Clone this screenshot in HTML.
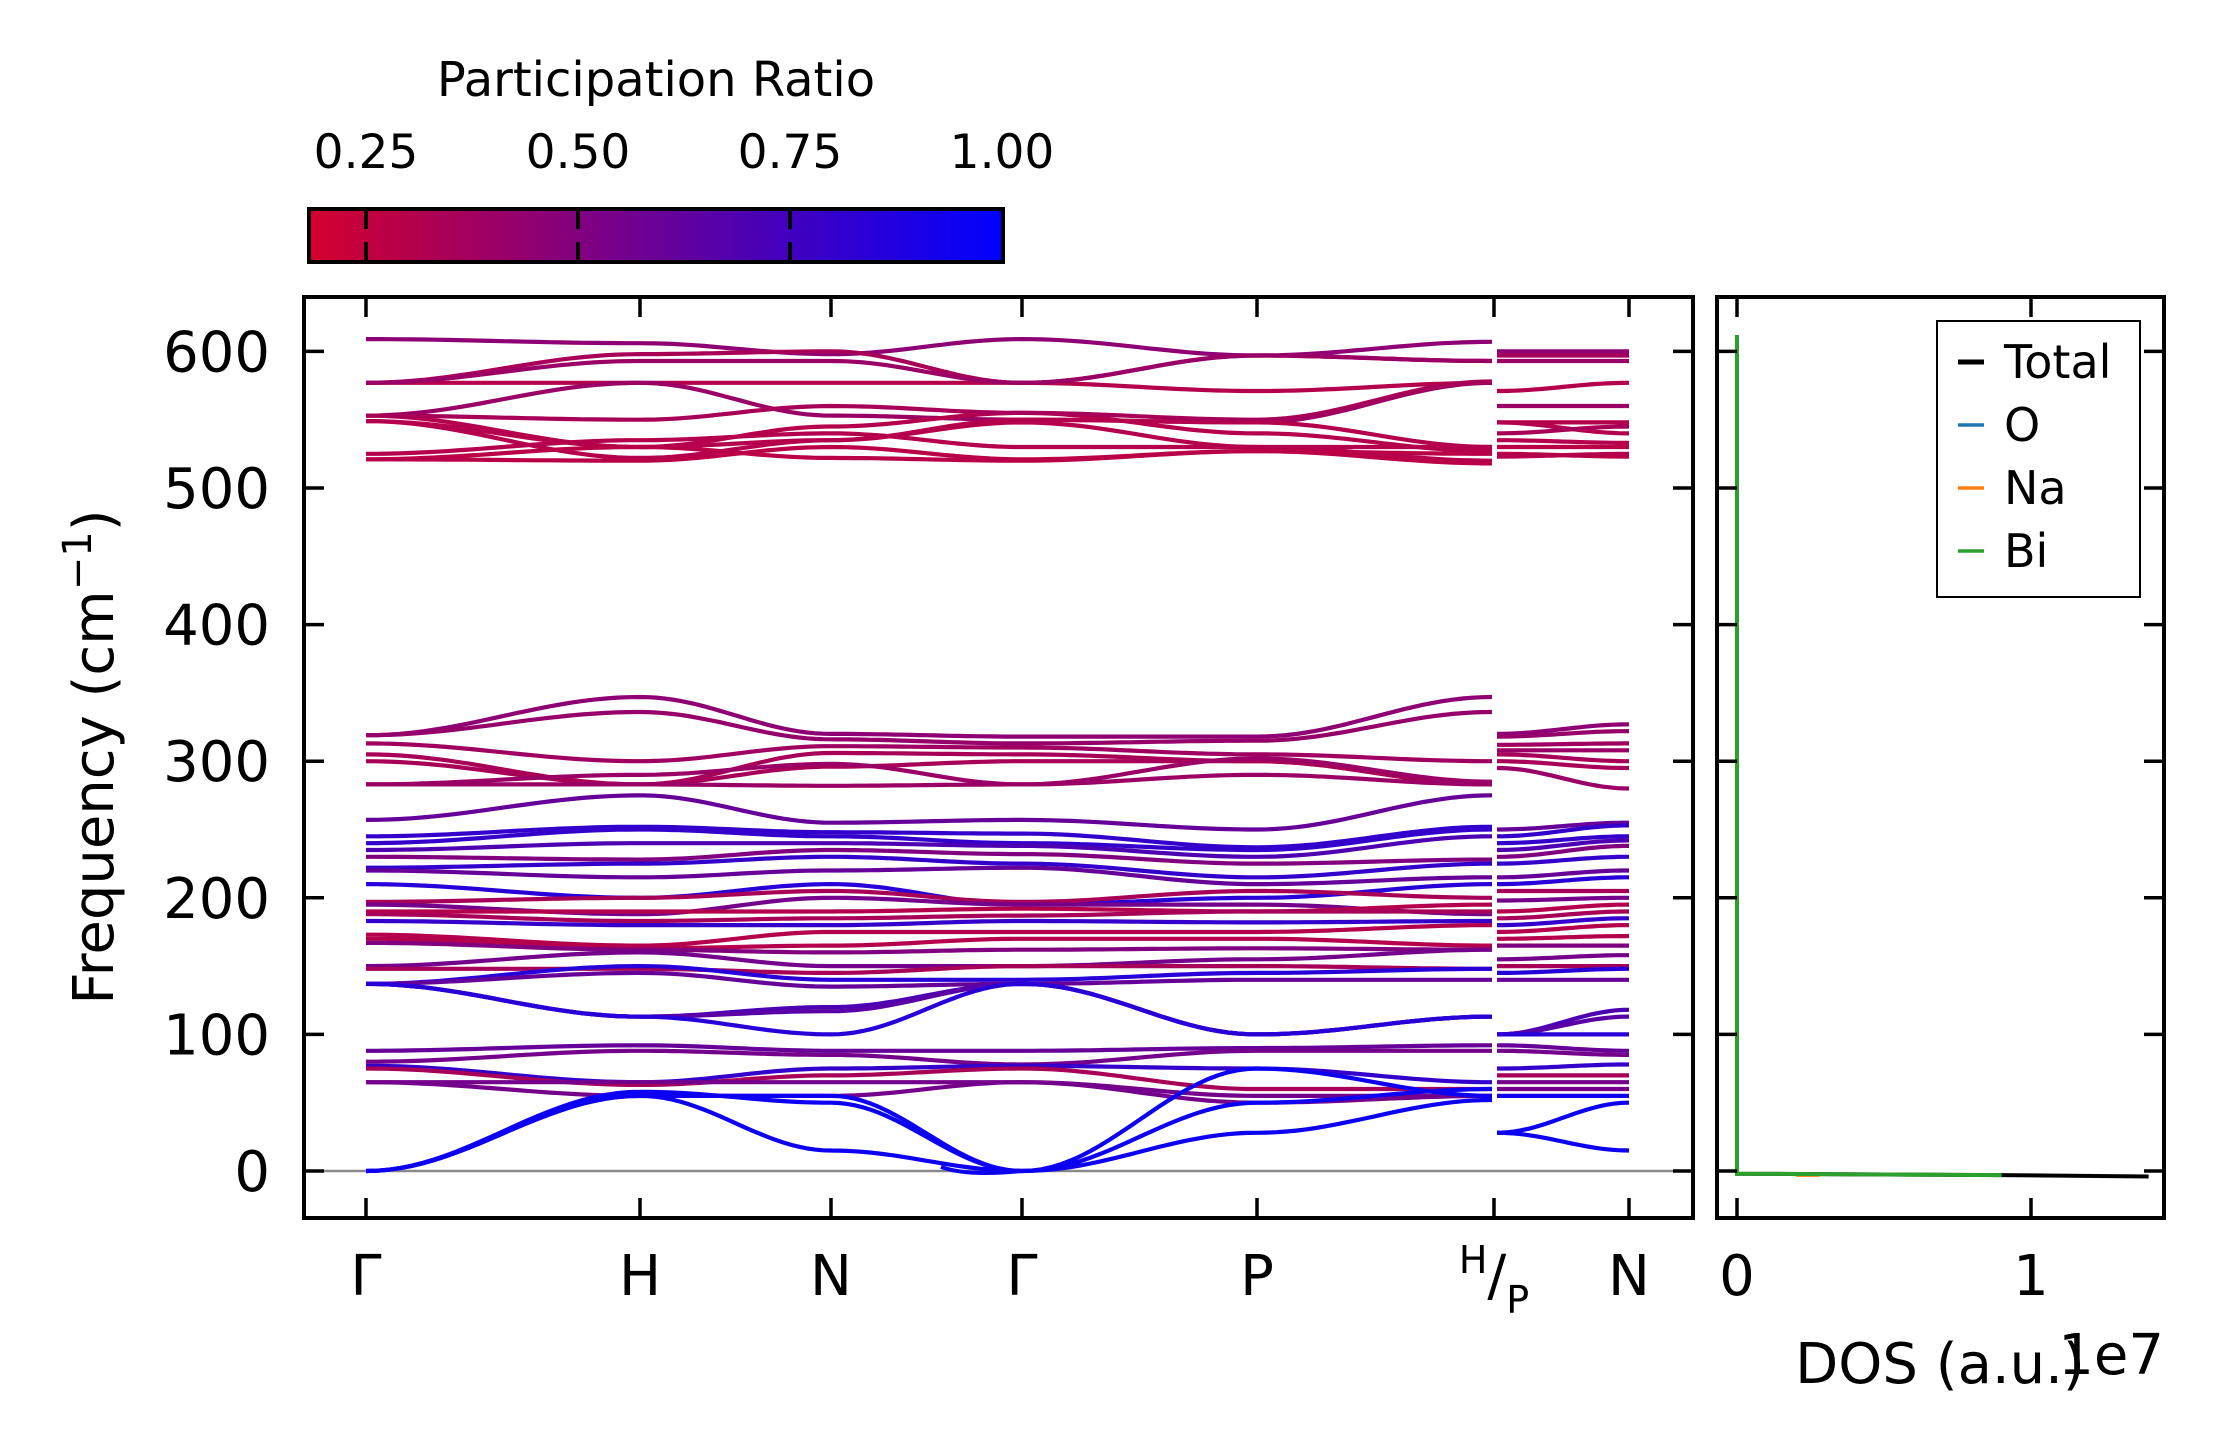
<!DOCTYPE html>
<html><head><meta charset="utf-8"><style>
html,body{margin:0;padding:0;background:#fff;}
svg{display:block;font-family:"DejaVu Sans","Liberation Sans",sans-serif;}
</style></head><body>
<svg id="fig" width="2222" height="1455" viewBox="0 0 2222 1455" xmlns="http://www.w3.org/2000/svg">
<defs>
<linearGradient id="cbgrad" x1="0" x2="1" y1="0" y2="0">
<stop offset="0" stop-color="rgb(212,0,46)"/><stop offset="1" stop-color="rgb(0,0,255)"/>
</linearGradient>
<clipPath id="mainclip"><rect x="303" y="295" width="1391" height="924"/></clipPath>
<clipPath id="dosclip"><rect x="1716" y="295" width="449" height="924"/></clipPath>
</defs>
<g id="colorbar"></g>
<g id="bands"></g>
<g id="dos"></g>
</svg>
<script>
const kLabels = ["Γ","H","N","Γ","P","H/P","N"];
const prTicks = [0.25, 0.50, 0.75, 1.00];
const prTickLabels = ["0.25","0.50","0.75","1.00"];
const yTicks = [0,100,200,300,400,500,600];
const dosTicks = [0,1];
const legendLabels = ["Total","O","Na","Bi"];
const legendColors = ["#000000","#1f77b4","#ff7f0e","#2ca02c"];
const bandFreqs = [
[609,606,598,609,597,607,600,600],
[577,598,600,577,597,593,597,597],
[577,577,577,577,571,577,571,577],
[577,593,593,577,597,593,593,593],
[553,577,553,550,548,577,560,560],
[553,530,545,555,540,527,548,548],
[549,530,535,548,530,520,548,540],
[549,522,535,550,548,530,535,533],
[521,520,530,521,527,518,530,530],
[521,530,522,520,527,525,525,523],
[553,550,560,555,550,578,540,545],
[525,535,540,530,530,530,523,525],
[319,347,320,318,318,347,320,327],
[319,336,316,313,315,336,318,322],
[313,300,311,310,305,300,312,313],
[305,283,306,305,300,283,305,300],
[300,283,296,300,300,283,300,295],
[283,283,282,283,290,283,295,280],
[283,290,298,283,302,285,308,308],
[257,275,255,257,250,275,250,255],
[245,252,248,247,237,252,245,253],
[240,250,245,240,235,250,240,245],
[235,240,240,238,230,245,235,242],
[230,228,235,232,225,228,230,238],
[222,225,230,225,215,225,225,230],
[220,215,220,222,210,215,215,220],
[210,200,210,195,200,210,210,215],
[197,200,205,197,205,200,205,205],
[195,188,200,195,195,188,198,200],
[190,190,190,192,190,195,190,195],
[188,183,185,187,190,190,185,190],
[183,180,180,183,182,183,180,185],
[173,165,175,175,175,180,175,180],
[170,163,165,170,170,165,170,172],
[167,162,160,162,163,162,165,165],
[150,160,150,150,155,162,155,158],
[148,148,145,150,150,148,150,150],
[137,150,140,140,145,148,145,148],
[137,145,135,137,140,140,140,140],
[137,113,120,137,100,113,100,118],
[137,113,117,137,100,113,100,113],
[137,113,100,137,100,113,100,100],
[88,92,88,88,90,92,92,88],
[80,88,85,78,88,88,88,85],
[77,65,75,77,75,65,75,78],
[75,63,70,75,60,60,70,70],
[65,65,65,65,55,55,65,65],
[65,55,55,65,50,55,60,60],
[0,55,55,0,75,55,55,55],
[0,55,15,0,28,52,28,15],
[0,58,50,0,50,60,28,50]
];
const bandPR = [0.45,0.35,0.3,0.4,0.4,0.3,0.3,0.3,0.28,0.28,0.35,0.3,
0.45,0.42,0.38,0.35,0.35,0.4,0.4,
0.6,0.8,0.8,0.7,0.5,0.8,0.6,0.85,0.35,0.55,0.3,0.35,0.8,0.3,0.3,0.5,0.55,0.35,0.85,0.6,0.7,0.65,0.85,
0.6,0.55,0.8,0.35,0.55,0.55,0.95,0.95,0.95];
const dosTotalX = [0,0,0.9,1.4];
const dosTotalY = [612,-2,-3,-4];
const dosBiX = [0,0,0.9];
const dosBiY = [612,-2,-3];
const dosNaX = [0.2,0.28];
const dosNaY = [-3,-3];

const NS="http://www.w3.org/2000/svg";
function mk(tag,attrs,parent){const e=document.createElementNS(NS,tag);for(const k in attrs)e.setAttribute(k,attrs[k]);parent.appendChild(e);return e;}
const yS = f => 1171 - 1.366*f;
const nodeX = [366,640,831,1022,1257,1492,1497,1629];
const kx = [366,640,831,1022,1257,1494,1629];
const dosX = d => 1737 + 294*d;
const cbX = v => 366 + (v-0.25)*848;
function prColor(v){const t=Math.max(0,Math.min(1,(v-0.18)/0.82));return `rgb(${Math.round(212*(1-t))},0,${Math.round(46+(255-46)*t)})`;}

const cb=document.getElementById('colorbar');
let t=mk('text',{x:656,y:96,'font-size':48,'text-anchor':'middle'},cb);t.textContent='Participation Ratio';

let r=mk('rect',{x:309,y:209,width:694,height:53,fill:'url(#cbgrad)',stroke:'#000','stroke-width':4},cb);

prTicks.forEach((v,i)=>{
  const x=cbX(v);
  if(i<prTicks.length-1){
    const l=mk('line',{x1:x,x2:x,y1:209,y2:262,stroke:'#000','stroke-width':4,'stroke-dasharray':'20 13'},cb);
    
  }
  const tt=mk('text',{x:x,y:168,'font-size':47,'text-anchor':'middle'},cb);tt.textContent=prTickLabels[i];
  
});

const bp=document.getElementById('bands');
const zl=mk('line',{x1:303,x2:1694,y1:yS(0),y2:yS(0),stroke:'#8a8a8a','stroke-width':2.5},bp);

const bg=mk('g',{'clip-path':'url(#mainclip)'},bp);
function seg(x0,x1,f0,f1){let d='';const n=24;for(let i=0;i<=n;i++){const s=i/n;const w=(1-Math.cos(Math.PI*s))/2;d+=(i?'L':'M')+(x0+(x1-x0)*s).toFixed(1)+','+yS(f0+(f1-f0)*w).toFixed(1);}return d;}
bandFreqs.forEach((fr,bi)=>{
  let d='';
  for(let j=0;j<5;j++)d+=seg(nodeX[j],nodeX[j+1],fr[j],fr[j+1]);
  d+=seg(nodeX[6],nodeX[7],fr[6],fr[7]);
  const p=mk('path',{d:d,fill:'none',stroke:prColor(bandPR[bi]),'stroke-width':4.2},bg);
  
  
});
const dip=mk('path',{d:`M${nodeX[2]+110},${yS(3)} Q${nodeX[2]+135},${yS(-4)} ${nodeX[3]},${yS(0)}`,fill:'none',stroke:prColor(0.95),'stroke-width':4},bg);


const frame=mk('rect',{x:304,y:297,width:1389,height:921,fill:'none',stroke:'#000','stroke-width':4},bp);

yTicks.forEach(v=>{
  const y=yS(v);
  const a=mk('line',{x1:304,x2:324,y1:y,y2:y,stroke:'#000','stroke-width':3.5},bp);
  
  const b=mk('line',{x1:1673,x2:1693,y1:y,y2:y,stroke:'#000','stroke-width':3.5},bp);
  
  const tl=mk('text',{x:270,y:y+20,'font-size':56,'text-anchor':'end'},bp);tl.textContent=String(v);
  
});
kx.forEach((x,i)=>{
  const a=mk('line',{x1:x,x2:x,y1:297,y2:317,stroke:'#000','stroke-width':3.5},bp);
  
  const b=mk('line',{x1:x,x2:x,y1:1198,y2:1218,stroke:'#000','stroke-width':3.5},bp);
  
  if(kLabels[i]==='H/P'){
    const g=mk('text',{x:x,y:1295,'font-size':56,'text-anchor':'middle'},bp);
    g.innerHTML='<tspan font-size="38" dy="-22">H</tspan><tspan dy="22">/</tspan><tspan font-size="38" dy="18">P</tspan>';
    
  } else {
    const tl=mk('text',{x:x,y:1295,'font-size':56,'text-anchor':'middle'},bp);tl.textContent=kLabels[i];
    
  }
});
const yl=mk('text',{x:0,y:0,'font-size':56,'text-anchor':'middle',transform:'translate(113,757) rotate(-90)'},bp);
yl.innerHTML='Frequency (cm<tspan font-size="40" dy="-22">−1</tspan><tspan dy="22">)</tspan>';


const dp=document.getElementById('dos');
const dg=mk('g',{'clip-path':'url(#dosclip)'},dp);
function poly(xs,ys,col,w,name){let d='';xs.forEach((v,i)=>{d+=(i?'L':'M')+dosX(v).toFixed(1)+','+yS(ys[i]).toFixed(1);});const p=mk('path',{d:d,fill:'none',stroke:col,'stroke-width':w},dg);}
poly(dosTotalX,dosTotalY,'#000',4,'dos-total-line');
poly(dosNaX,dosNaY,'#ff7f0e',3.5,'dos-na-line');
poly(dosBiX,dosBiY,'#2ca02c',4,'dos-bi-line');
const f2=mk('rect',{x:1717,y:297,width:447,height:921,fill:'none',stroke:'#000','stroke-width':4},dp);

yTicks.forEach(v=>{
  const y=yS(v);
  const a=mk('line',{x1:1717,x2:1737,y1:y,y2:y,stroke:'#000','stroke-width':3.5},dp);
  
  const b=mk('line',{x1:2144,x2:2164,y1:y,y2:y,stroke:'#000','stroke-width':3.5},dp);
  
});
dosTicks.forEach(v=>{
  const x=dosX(v);
  const a=mk('line',{x1:x,x2:x,y1:297,y2:317,stroke:'#000','stroke-width':3.5},dp);
  
  const b=mk('line',{x1:x,x2:x,y1:1198,y2:1218,stroke:'#000','stroke-width':3.5},dp);
  
  const tl=mk('text',{x:x,y:1295,'font-size':56,'text-anchor':'middle'},dp);tl.textContent=String(v);
  
});
const xl=mk('text',{x:1940,y:1383,'font-size':56,'text-anchor':'middle'},dp);xl.textContent='DOS (a.u.)';

const ex=mk('text',{x:2164,y:1374,'font-size':56,'text-anchor':'end'},dp);ex.textContent='1e7';

const lg=mk('g',{},dp);

mk('rect',{x:1937,y:321,width:203,height:276,fill:'#fff',stroke:'#000','stroke-width':2},lg);
legendLabels.forEach((lab,i)=>{
  const y=362+i*63;
  const e=mk('g',{},lg);
  
  
  mk('line',{x1:1958,x2:1984,y1:y,y2:y,stroke:legendColors[i],'stroke-width':i===0?5:3.5},e);
  const tt=mk('text',{x:2004,y:y+16,'font-size':46},e);tt.textContent=lab;
});
</script>
</body></html>
